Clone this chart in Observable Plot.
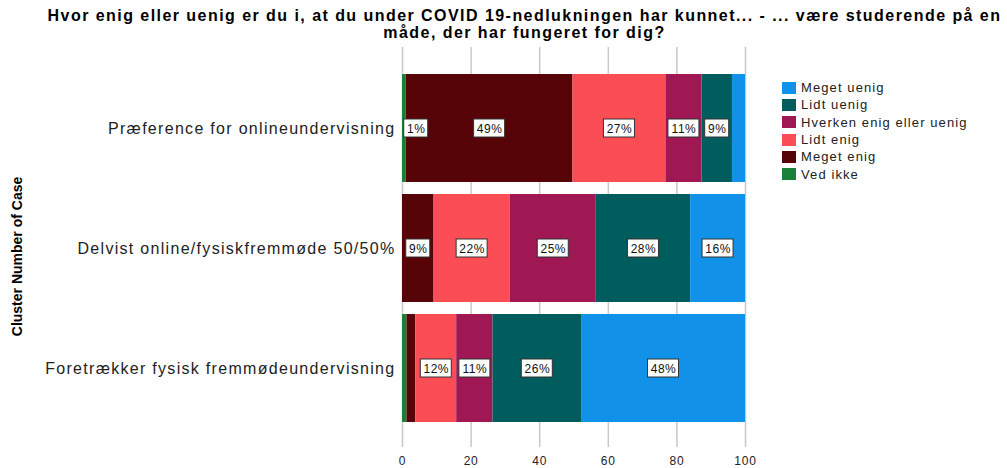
<!DOCTYPE html>
<html>
<head>
<meta charset="utf-8">
<script src="https://cdn.jsdelivr.net/npm/d3@7"></script>
<script src="https://cdn.jsdelivr.net/npm/@observablehq/plot@0.6"></script>
<style>
  html, body { margin: 0; padding: 0; background: #fff; overflow: hidden; }
  #wrap { position: relative; width: 1007px; height: 468px; overflow: hidden; font-family: "Liberation Sans", Arial, sans-serif; }
  #title { position: absolute; left: 0; top: 7px; width: 1049px; text-align: center; font-weight: bold; font-size: 16px; line-height: 17px; letter-spacing: 1.45px; color: #000; white-space: nowrap; }
  #legend { position: absolute; left: 782px; top: 79px; font-size: 13px; letter-spacing: 1.1px; color: #222; }
  .item { display: flex; align-items: center; height: 17.3px; }
  .sw { width: 14px; height: 12px; margin-right: 5px; box-sizing: border-box; }
  #chart { position: absolute; left: 0; top: 0; }
  #chart [aria-label="y-axis tick label"] text { letter-spacing: 1.3px; }
  #chart [aria-label="x-axis tick label"] text { letter-spacing: 0.8px; }
  #chart .lbl text { letter-spacing: 0.5px; }
</style>
</head>
<body>
<div id="wrap">
  <div id="chart"></div>
  <div id="title"></div>
  <div id="legend"></div>
</div>
<script>
const titleLines = [
  "Hvor enig eller uenig er du i, at du under COVID 19-nedlukningen har kunnet... - ... være studerende på en",
  "måde, der har fungeret for dig?"
];
const yTitle = "Cluster Number of Case";
const categories = [
  "Præference for onlineundervisning",
  "Delvist online/fysiskfremmøde 50/50%",
  "Foretrækker fysisk fremmødeundervisning"
];
// stacking order, left to right
const responses = ["Ved ikke", "Meget enig", "Lidt enig", "Hverken enig eller uenig", "Lidt uenig", "Meget uenig"];
const colors = ["#198038", "#570408", "#fa4d56", "#9f1853", "#005d5d", "#1192e8"];
// percentages per category (same order as categories)
const vedIkke    = [1.1, 0.0, 1.3];
const megetEnig  = [48.6, 9.2, 2.6];
const lidtEnig   = [27.1, 22.2, 11.9];
const hverken    = [10.5, 25.1, 10.6];
const lidtUenig  = [8.9, 27.5, 25.8];
const megetUenig = [3.8, 16.0, 47.8];
// whether a percentage label is shown on the segment
const showVedIkke    = [true, false, false];
const showMegetEnig  = [true, true, false];
const showLidtEnig   = [true, true, true];
const showHverken    = [true, true, true];
const showLidtUenig  = [true, true, true];
const showMegetUenig = [false, true, true];
const xTicks = [0, 20, 40, 60, 80, 100];

const series = [vedIkke, megetEnig, lidtEnig, hverken, lidtUenig, megetUenig];
const shows = [showVedIkke, showMegetEnig, showLidtEnig, showHverken, showLidtUenig, showMegetUenig];

const rows = [];
categories.forEach((c, ci) => {
  let acc = 0;
  responses.forEach((r, ri) => {
    const v = series[ri][ci];
    rows.push({category: c, response: r, value: v, x1: acc, x2: acc + v, show: shows[ri][ci]});
    acc += v;
  });
});
const labels = rows.filter(d => d.show).map(d => {
  const text = Math.round(d.value) + "%";
  const mid = (d.x1 + d.x2) / 2;
  return {...d, text, lx: Math.max(mid, d.x1 + 4)};
});
const short = labels.filter(d => d.text.length <= 2);
const long = labels.filter(d => d.text.length > 2);

const bandRange = [48, 447];

const plot = Plot.plot({
  width: 1007,
  height: 468,
  marginLeft: 402,
  marginRight: 262,
  marginTop: 47,
  marginBottom: 21,
  style: {fontFamily: "Liberation Sans, Arial, sans-serif", background: "white"},
  x: {domain: [0, 100], ticks: xTicks, label: null},
  y: {domain: categories, range: bandRange, paddingInner: 0.1, paddingOuter: 0.21, label: null},
  color: {domain: responses, range: colors},
  marks: [
    Plot.gridX(xTicks, {stroke: "#c8c8c8", strokeOpacity: 1, strokeWidth: 1.5}),
    Plot.barX(rows, {x1: "x1", x2: "x2", y: "category", fill: "response"}),
    Plot.barX(long, {x1: "lx", x2: "lx", y: "category", fill: "white", stroke: "#333", strokeWidth: 1,
      insetLeft: -15.5, insetRight: -15.5, insetTop: 45, insetBottom: 45}),
    Plot.barX(short, {x1: "lx", x2: "lx", y: "category", fill: "white", stroke: "#333", strokeWidth: 1,
      insetLeft: -12, insetRight: -12, insetTop: 45, insetBottom: 45}),
    Plot.text(labels, {x: "lx", y: "category", text: "text", fontSize: 12, fill: "#111", className: "lbl", dy: 0.5}),
    Plot.axisX(xTicks, {tickSize: 0, tickPadding: 9, fontSize: 12, fill: "#222", tickFormat: d => String(d)}),
    Plot.axisY({tickSize: 0, tickPadding: 7, fontSize: 16, fill: "#222"}),
    Plot.ruleX([0], {y1: 0, y2: 1, stroke: "#888", strokeWidth: 1.2,
      render: (i, s, v, d) => {
        const g = d3.create("svg:g");
        g.append("line").attr("x1", s.x(0)).attr("x2", s.x(0)).attr("y1", d.marginTop).attr("y2", d.height - d.marginBottom).attr("stroke", "#888").attr("stroke-width", 1.3);
        g.append("line").attr("x1", s.x(0)).attr("x2", s.x(100) + 38).attr("y1", d.height - d.marginBottom).attr("y2", d.height - d.marginBottom).attr("stroke", "#999").attr("stroke-width", 1.3);
        return g.node();
      }}),
    Plot.text([yTitle], {frameAnchor: "left", textAnchor: "middle", dx: -385, dy: 9, rotate: -90, fontWeight: "bold", fontSize: 14, fill: "#000", text: d => d})
  ]
});
document.getElementById("chart").appendChild(plot);

const t = document.getElementById("title");
titleLines.forEach(l => { const div = document.createElement("div"); div.textContent = l; t.appendChild(div); });

const lg = document.getElementById("legend");
responses.slice().reverse().forEach((r) => {
  const i = responses.indexOf(r);
  const item = document.createElement("div"); item.className = "item";
  const sw = document.createElement("div"); sw.className = "sw"; sw.style.background = colors[i];
  const tx = document.createElement("span"); tx.textContent = r;
  item.appendChild(sw); item.appendChild(tx); lg.appendChild(item);
});
</script>
</body>
</html>
